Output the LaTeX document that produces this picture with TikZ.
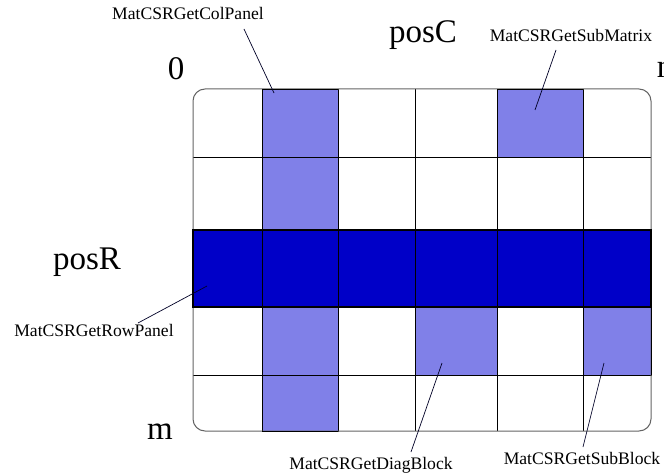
\documentclass[tikz,border=0pt]{standalone}
\usepackage{fontspec}
\setmainfont{Liberation Serif}
\definecolor{lightb}{RGB}{128,128,232}
\definecolor{darkb}{RGB}{0,0,200}
\definecolor{frame}{RGB}{100,100,100}
\begin{document}
\begin{tikzpicture}[x=1pt,y=-1pt,
  gridline/.style={black,line width=0.8pt},
  lightcell/.style={fill=lightb,draw=black,line width=0.9pt},
  darkcell/.style={fill=darkb,draw=black,line width=1.2pt},
  small/.style={font=\fontsize{17.6}{20}\selectfont,inner sep=0pt,anchor=base},
  big/.style={font=\fontsize{33}{36}\selectfont,inner sep=0pt,anchor=base},
  leader/.style={black!85!blue,line width=0.7pt}]
\useasboundingbox (0,0) rectangle (664,476);
% background of the matrix
\fill[white] (193,89) rectangle (651,431);
% light cells
\path[lightcell] (262,89) rectangle (338,157);
\path[lightcell] (262,157) rectangle (338,230);
\path[lightcell] (262,307) rectangle (338,375);
\path[lightcell] (262,375) rectangle (338,431);
\path[lightcell] (497,89) rectangle (583,157);
\path[lightcell] (415,307) rectangle (497,375);
\path[lightcell] (583,307) rectangle (651,375);
% grid lines
\foreach \x in {262,338,415,497,583} \draw[gridline] (\x,89) -- (\x,431);
\foreach \y in {157,375} \draw[gridline] (193,\y) -- (651,\y);
% outer frame
\draw[frame,line width=1pt,rounded corners=12pt] (193,89) rectangle (651,431);
% redraw light cell outlines on top of the frame
\draw[black,line width=0.9pt] (262,89) -- (338,89) (497,89) -- (583,89)
  (262,431) -- (338,431) (651,307) -- (651,375);
% dark row panel
\path[darkcell] (193,230) rectangle (651,307);
\foreach \x in {262,338,415,497,583} \draw[gridline] (\x,230) -- (\x,307);
% labels
\node[small] (colpanel) at (188,20) {MatCSRGetColPanel};
\node[big] (posC) at (423,43) {posC};
\node[small] (submatrix) at (571,42) {MatCSRGetSubMatrix};
\node[big] (zero) at (176,80) {0};
\node[big] (n) at (665,78) {n};
\node[big] (posR) at (87,269) {posR};
\node[small] (rowpanel) at (94,336) {MatCSRGetRowPanel};
\node[big] (m) at (160,439) {m};
\node[small] (diagblock) at (371,469) {MatCSRGetDiagBlock};
\node[small] (subblock) at (582,464) {MatCSRGetSubBlock};
% leader line ends
\coordinate (colpanelA) at (244,29);   \coordinate (colpanelB) at (274,93);
\coordinate (submatrixA) at (556,50);  \coordinate (submatrixB) at (535,110);
\coordinate (rowpanelA) at (138,323);  \coordinate (rowpanelB) at (207,286);
\coordinate (diagblockA) at (411,452); \coordinate (diagblockB) at (442,363);
\coordinate (subblockA) at (583,447);  \coordinate (subblockB) at (604,363);
\draw[leader] (colpanelA) -- (colpanelB);
\draw[leader] (submatrixA) -- (submatrixB);
\draw[leader] (rowpanelA) -- (rowpanelB);
\draw[leader] (diagblockA) -- (diagblockB);
\draw[leader] (subblockA) -- (subblockB);
\end{tikzpicture}
\end{document}
